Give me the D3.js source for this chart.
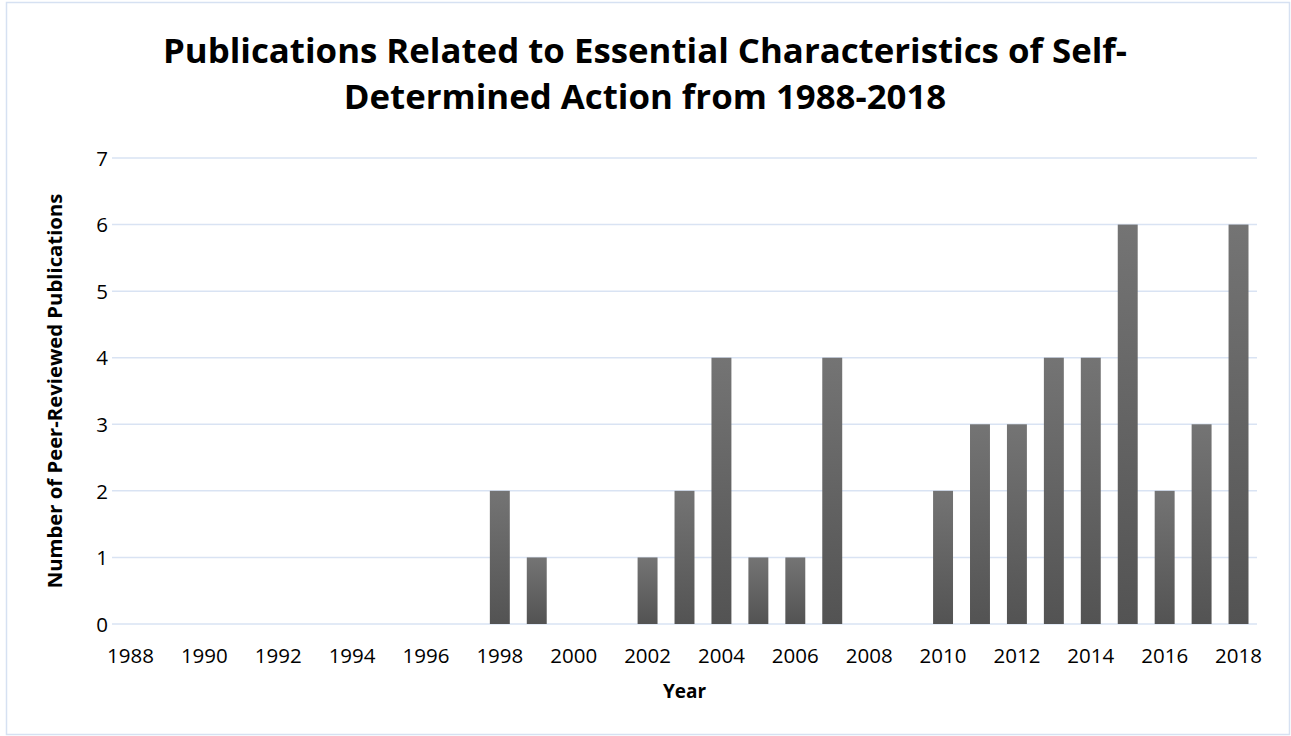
<!DOCTYPE html>
<html>
<head>
<meta charset="utf-8">
<script src="https://cdn.jsdelivr.net/npm/d3@7"></script>
<style>
  html, body { margin: 0; padding: 0; background: #fff; }
  svg { display: block; }
</style>
</head>
<body>
<svg id="chart" width="1291" height="736"></svg>
<script>
// Publication counts per year
const years = d3.range(1988, 2019).map(String);
const counts = [0, 0, 0, 0, 0, 0, 0, 0, 0, 0,
                2, 1, 0, 0, 1, 2, 4, 1, 1, 4,
                0, 0, 2, 3, 3, 4, 4, 6, 2, 3, 6];
const yTicks = [0, 1, 2, 3, 4, 5, 6, 7];
const xTickLabels = years.filter((d, i) => i % 2 === 0);

const titleLines = [
  "Publications Related to Essential Characteristics of Self-",
  "Determined Action from 1988-2018"
];
const xTitle = "Year";
const yTitle = "Number of Peer-Reviewed Publications";

const W = 1291, H = 736;
const margin = { top: 158, right: 34, bottom: 112, left: 112 };
const font = "'Open Sans', 'Noto Sans', sans-serif";

const svg = d3.select("#chart");

// outer chart frame
svg.append("rect")
  .attr("x", 6.5).attr("y", 2.5)
  .attr("width", W - 8).attr("height", H - 4)
  .attr("fill", "#fff")
  .attr("stroke", "#d6e1f2").attr("stroke-width", 1.5);

const x = d3.scaleBand()
  .domain(years)
  .range([margin.left, W - margin.right])
  .paddingInner(0.46)
  .paddingOuter(0.23);

const y = d3.scaleLinear()
  .domain([0, 7])
  .range([H - margin.bottom, margin.top]);

// bar shading: lighter at the top, darker at the base
const defs = svg.append("defs");
const grad = defs.append("linearGradient")
  .attr("id", "barFill")
  .attr("x1", 0).attr("y1", 0).attr("x2", 0).attr("y2", 1);
grad.append("stop").attr("offset", "0%").attr("stop-color", "#747474");
grad.append("stop").attr("offset", "100%").attr("stop-color", "#535353");

// horizontal gridlines
svg.append("g")
  .selectAll("line")
  .data(yTicks)
  .join("line")
  .attr("x1", margin.left).attr("x2", W - margin.right)
  .attr("y1", d => y(d)).attr("y2", d => y(d))
  .attr("stroke", "#d9e3f3").attr("stroke-width", 1.5);

// bars
svg.append("g")
  .selectAll("rect")
  .data(years.map((yr, i) => ({ yr, v: counts[i] })).filter(d => d.v > 0))
  .join("rect")
  .attr("x", d => x(d.yr))
  .attr("width", x.bandwidth())
  .attr("y", d => y(d.v))
  .attr("height", d => y(0) - y(d.v))
  .attr("fill", "url(#barFill)");

// y axis labels
const yAxis = d3.axisLeft(y).tickValues(yTicks).tickSize(0).tickPadding(0).tickFormat(d3.format("d"));
const gy = svg.append("g")
  .attr("transform", `translate(${margin.left - 4},0)`)
  .call(yAxis);
gy.select(".domain").remove();
gy.selectAll("text")
  .attr("font-family", font).attr("font-size", 20.5)
  .attr("fill", "#000")
  .attr("dy", "0.35em");

// x axis labels
const xAxis = d3.axisBottom(x).tickValues(xTickLabels).tickSize(0).tickPadding(0);
const gx = svg.append("g")
  .attr("transform", `translate(0,${H - margin.bottom})`)
  .call(xAxis);
gx.select(".domain").remove();
gx.selectAll("text")
  .attr("font-family", font).attr("font-size", 20.5)
  .attr("fill", "#000")
  .attr("y", 0)
  .attr("dy", 39);

// title
const title = svg.append("text")
  .attr("text-anchor", "middle")
  .attr("font-family", font)
  .attr("font-weight", 700)
  .attr("font-size", 34.8)
  .attr("fill", "#000");
title.selectAll("tspan")
  .data(titleLines)
  .join("tspan")
  .attr("x", 645)
  .attr("y", (d, i) => 63 + i * 46)
  .text(d => d);

// axis titles
svg.append("text")
  .attr("x", (margin.left + W - margin.right) / 2)
  .attr("y", 698)
  .attr("text-anchor", "middle")
  .attr("font-family", font).attr("font-weight", 700).attr("font-size", 19)
  .attr("fill", "#000")
  .text(xTitle);

svg.append("text")
  .attr("transform", `translate(62,${(y(0) + y(7)) / 2}) rotate(-90)`)
  .attr("text-anchor", "middle")
  .attr("font-family", font).attr("font-weight", 700).attr("font-size", 20.3)
  .attr("fill", "#000")
  .text(yTitle);
</script>
</body>
</html>
